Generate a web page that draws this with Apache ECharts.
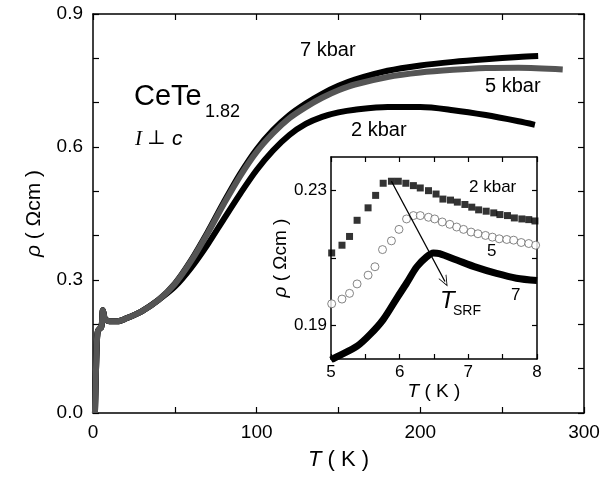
<!DOCTYPE html>
<html>
<head>
<meta charset="utf-8">
<script src="https://cdn.jsdelivr.net/npm/echarts@6/dist/echarts.min.js"></script>
<style>
html, body { margin: 0; padding: 0; background: #fff; }
#chart { width: 615px; height: 482px; }
</style>
</head>
<body>
<div id="chart"></div>
<script>
// low temperature part, same for all pressures (T in K, rho in Ohm cm)
var lowT = [[1.2,0],[1.5,0.05],[2,0.12],[2.5,0.17],[3,0.185],[4,0.19],[5,0.193],[5.5,0.205],[6,0.232],[6.5,0.225],[7,0.215],[8,0.21],[10,0.207],[15,0.207],[20,0.213],[30,0.23],[40,0.255]];

var rho7 = [[50,0.292],[60,0.345],[70,0.408],[80,0.476],[90,0.54],[100,0.595],[110,0.638],[120,0.672],[130,0.698],[140,0.72],[150,0.738],[160,0.752],[180,0.772],[200,0.784],[220,0.792],[240,0.798],[260,0.803],[272,0.805]];
var rho5 = [[50,0.291],[60,0.343],[70,0.405],[80,0.472],[90,0.535],[100,0.589],[110,0.631],[120,0.665],[130,0.69],[140,0.711],[150,0.728],[160,0.741],[180,0.758],[200,0.768],[220,0.774],[240,0.778],[260,0.779],[287,0.775]];
var rho2 = [[50,0.285],[60,0.328],[70,0.38],[80,0.438],[90,0.495],[100,0.548],[110,0.592],[120,0.627],[130,0.652],[140,0.668],[150,0.678],[160,0.684],[180,0.69],[200,0.69],[220,0.683],[240,0.672],[260,0.658],[270,0.65]];

// inset: 5 - 8 K
var inset2 = [[5.01,0.2115],[5.16,0.2138],[5.27,0.2164],[5.38,0.2212],[5.54,0.2249],[5.65,0.2286],[5.76,0.2322],[5.88,0.2328],[5.98,0.2328],[6.09,0.2322],[6.20,0.2315],[6.30,0.2308],[6.42,0.2300],[6.53,0.2290],[6.63,0.2275],[6.74,0.2272],[6.84,0.2266],[6.95,0.2259],[7.05,0.2251],[7.15,0.2243],[7.26,0.2239],[7.37,0.2234],[7.46,0.2229],[7.57,0.2226],[7.67,0.2219],[7.78,0.2216],[7.88,0.2214],[7.97,0.2210]];
var inset5 = [[5.01,0.1964],[5.16,0.1978],[5.27,0.1995],[5.38,0.2023],[5.54,0.2049],[5.64,0.2074],[5.75,0.2125],[5.88,0.2151],[5.99,0.2185],[6.10,0.2216],[6.20,0.2226],[6.30,0.2226],[6.42,0.2221],[6.51,0.2216],[6.62,0.2207],[6.73,0.2200],[6.83,0.2192],[6.93,0.2185],[7.04,0.2177],[7.14,0.2172],[7.25,0.2167],[7.35,0.2162],[7.45,0.2157],[7.56,0.2155],[7.66,0.2153],[7.77,0.2146],[7.88,0.2143],[7.98,0.2138]];
var inset7 = [[5.0,0.1797],[5.09,0.1807],[5.38,0.1838],[5.57,0.1873],[5.76,0.1917],[5.96,0.1981],[6.10,0.2025],[6.25,0.2074],[6.39,0.2103],[6.49,0.2115],[6.58,0.2113],[6.83,0.2094],[7.12,0.2072],[7.41,0.2054],[7.70,0.2040],[8.0,0.2033]];

// arrow marking T_SRF shift
var arrowFrom = [5.88, 0.2328];
var arrowTo = [6.66, 0.2030];

var font = 'Liberation Sans, Arial, sans-serif';

function frameAxis(grid, pos, min, max, interval, len) {
	return {
		type : 'value',
		gridIndex : grid,
		position : pos,
		min : min,
		max : max,
		interval : interval,
		axisLine : { show : true, onZero : false, lineStyle : { color : '#000', width : 1.5 } },
		axisTick : { show : true, inside : true, length : len, lineStyle : { color : '#000', width : 1.2 } },
		axisLabel : { show : false },
		splitLine : { show : false }
	};
}

var chart = echarts.init(document.getElementById('chart'), null, { renderer : 'canvas' });

var xMain = frameAxis(0, 'bottom', 0, 300, 50, 6);
xMain.axisLabel = {
	show : true, color : '#000', fontSize : 19, fontFamily : font, margin : 10,
	formatter : function (v) { return v % 100 === 0 ? String(v) : ''; }
};
xMain.name = '{i|T} ( K )';
xMain.nameLocation = 'middle';
xMain.nameGap = 36;
xMain.nameTextStyle = { color : '#000', fontSize : 22, fontFamily : font,
	rich : { i : { fontStyle : 'italic', fontSize : 22, fontFamily : font } } };

var yMain = frameAxis(0, 'left', 0, 0.9, 0.1, 6);
yMain.axisLabel = {
	show : true, color : '#000', fontSize : 19, fontFamily : font, margin : 10,
	formatter : function (v) { return Math.round(v * 10) % 3 === 0 ? v.toFixed(1) : ''; }
};
yMain.name = '{i|ρ} ( Ωcm )';
yMain.nameLocation = 'middle';
yMain.nameGap = 48;
yMain.nameRotate = 90;
yMain.nameTextStyle = { color : '#000', fontSize : 21, fontFamily : font,
	rich : { i : { fontStyle : 'italic', fontSize : 21, fontFamily : font } } };

var xIn = frameAxis(1, 'bottom', 5, 8, 0.5, 5);
xIn.axisLabel = {
	show : true, color : '#000', fontSize : 17, fontFamily : font, margin : 5,
	formatter : function (v) { return v % 1 === 0 ? String(v) : ''; }
};
xIn.name = '{i|T} ( K )';
xIn.nameLocation = 'middle';
xIn.nameGap = 20;
xIn.nameTextStyle = { color : '#000', fontSize : 19, fontFamily : font,
	rich : { i : { fontStyle : 'italic', fontSize : 19, fontFamily : font } } };

var yIn = frameAxis(1, 'left', 0.18, 0.24, 0.01, 5);
yIn.axisTick.customValues = [0.19, 0.21, 0.23];
yIn.axisLabel = {
	show : true, color : '#000', fontSize : 17, fontFamily : font, margin : 4,
	customValues : [0.19, 0.23],
	formatter : function (v) { return v.toFixed(2); }
};
yIn.name = '{i|ρ} ( Ωcm )';
yIn.nameLocation = 'middle';
yIn.nameGap = 31;
yIn.nameRotate = 90;
yIn.nameTextStyle = { color : '#000', fontSize : 19, fontFamily : font,
	rich : { i : { fontStyle : 'italic', fontSize : 19, fontFamily : font } } };

var yInRight = frameAxis(1, 'right', 0.18, 0.24, 0.01, 5);
yInRight.axisTick.customValues = [0.19, 0.21, 0.23];

function mainLine(name, data, color) {
	return {
		name : name, type : 'line', xAxisIndex : 0, yAxisIndex : 0,
		data : lowT.concat(data), smooth : 0.3, showSymbol : false,
		lineStyle : { color : color, width : 6 }, silent : true
	};
}

chart.setOption({
	animation : false,
	backgroundColor : '#fff',
	grid : [
		{ left : 93, top : 14, right : 31, bottom : 69 },
		{ left : 331, top : 157, right : 78, bottom : 123, show : true, backgroundColor : '#fff', borderWidth : 0 }
	],
	xAxis : [ xMain, frameAxis(0, 'top', 0, 300, 50, 6), xIn, frameAxis(1, 'top', 5, 8, 0.5, 5) ],
	yAxis : [ yMain, frameAxis(0, 'right', 0, 0.9, 0.1, 6), yIn, yInRight ],
	series : [
		mainLine('2 kbar', rho2, '#000'),
		mainLine('7 kbar', rho7, '#000'),
		mainLine('5 kbar', rho5, '#555'),
		{
			name : 'inset 7', type : 'line', xAxisIndex : 2, yAxisIndex : 2, data : inset7,
			smooth : 0.3, showSymbol : false, lineStyle : { color : '#000', width : 7 }, silent : true
		},
		{
			name : 'inset 5', type : 'scatter', xAxisIndex : 2, yAxisIndex : 2, data : inset5,
			symbol : 'circle', symbolSize : 8,
			itemStyle : { color : '#fff', borderColor : '#666', borderWidth : 1 }, silent : true
		},
		{
			name : 'inset 2', type : 'scatter', xAxisIndex : 2, yAxisIndex : 2, data : inset2,
			symbol : 'rect', symbolSize : 7, itemStyle : { color : '#000' }, silent : true,
			markLine : {
				silent : true, animation : false,
				symbol : ['none', 'path://M5,0L10,10L9,10L5,2L1,10L0,10Z'], symbolSize : [9, 11],
				label : { show : false },
				lineStyle : { color : '#000', width : 1.3, type : 'solid' },
				data : [ [ { coord : arrowFrom }, { coord : arrowTo } ] ]
			}
		}
	],
	graphic : [
		{ type : 'text', left : 300, top : 40, style : { text : '7 kbar', fontSize : 20, fontFamily : font, fill : '#000' } },
		{ type : 'text', left : 485, top : 76, style : { text : '5 kbar', fontSize : 20, fontFamily : font, fill : '#000' } },
		{ type : 'text', left : 351, top : 120, style : { text : '2 kbar', fontSize : 20, fontFamily : font, fill : '#000' } },
		{ type : 'text', left : 134, top : 82, style : { text : 'CeTe', fontSize : 29, fontFamily : font, fill : '#000' } },
		{ type : 'text', left : 205, top : 103, style : { text : '1.82', fontSize : 18, fontFamily : font, fill : '#000' } },
		{ type : 'text', left : 135, top : 129, style : { text : 'I', fontSize : 21, fontStyle : 'italic', fontFamily : 'Liberation Serif, serif', fill : '#000' } },
		{ type : 'text', left : 147, top : 129, style : { text : '⊥', fontSize : 20, fontFamily : 'DejaVu Serif, serif', fill : '#000' } },
		{ type : 'text', left : 172, top : 129, style : { text : 'c', fontSize : 21, fontStyle : 'italic', fontFamily : font, fill : '#000' } },
		{ type : 'text', left : 469, top : 179, style : { text : '2 kbar', fontSize : 17, fontFamily : font, fill : '#000' } },
		{ type : 'text', left : 487, top : 243, style : { text : '5', fontSize : 17, fontFamily : font, fill : '#000' } },
		{ type : 'text', left : 511, top : 287, style : { text : '7', fontSize : 17, fontFamily : font, fill : '#000' } },
		{ type : 'text', left : 440, top : 289, style : { text : 'T', fontSize : 24, fontStyle : 'italic', fontFamily : font, fill : '#000' } },
		{ type : 'text', left : 453, top : 304, style : { text : 'SRF', fontSize : 14, fontFamily : font, fill : '#000' } }
	]
});
</script>
</body>
</html>
